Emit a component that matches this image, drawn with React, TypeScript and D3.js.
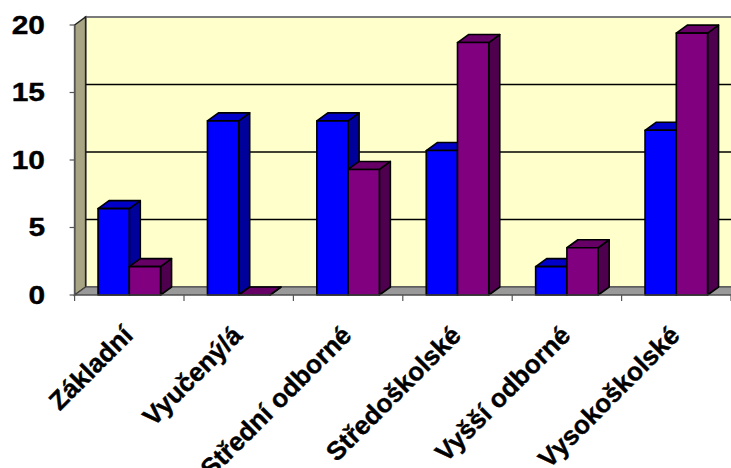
import React, { useEffect, useRef } from "react";
import * as d3 from "d3";

const categories = [
  "Základní",
  "Vyučený/á",
  "Střední odborné",
  "Středoškolské",
  "Vyšší odborné",
  "Vysokoškolské",
];
const seriesNames = ["A", "B"];
const seriesA = [6.4, 12.9, 12.9, 10.7, 2.1, 12.2];
const seriesB = [2.1, 0, 9.3, 18.7, 3.5, 19.4];
const yTicks = [0, 5, 10, 15, 20];

const faceColors = [
  { front: "#0000FF", top: "#0000C8", side: "#00009A" },
  { front: "#800080", top: "#660066", side: "#4E004E" },
];

const App: React.FC = () => {
  const ref = useRef<SVGSVGElement | null>(null);

  useEffect(() => {
    if (!ref.current) return;
    const width = 731;
    const height = 468;
    const svg = d3.select(ref.current);
    svg.selectAll("*").remove();
    svg.attr("width", width).attr("height", height);

    const left = 74.6;
    const right = 731;
    const dx = 11; // depth offset
    const dy = -8;

    const x = d3.scaleBand<string>().domain(categories).range([left, right]).padding(0);
    const xs = d3
      .scaleBand<string>()
      .domain(seriesNames)
      .range([0, x.bandwidth()])
      .paddingInner(0)
      .paddingOuter(0.75);
    const y = d3.scaleLinear().domain([0, 20]).range([295, 25]);

    const y0 = y(0);
    const yTop = y(20);

    // back wall
    svg.append("rect")
      .attr("x", left + dx)
      .attr("y", yTop + dy)
      .attr("width", right - left + 20)
      .attr("height", y0 - yTop)
      .attr("fill", "#FFFFCC")
      .attr("stroke", "#7a7a7a")
      .attr("stroke-width", 2);

    // gridlines on back wall
    yTicks.filter(t => t > 0 && t < 20).forEach(t => {
      svg.append("line")
        .attr("x1", left + dx)
        .attr("x2", width)
        .attr("y1", y(t) + dy)
        .attr("y2", y(t) + dy)
        .attr("stroke", "#000")
        .attr("stroke-width", 1.6);
    });

    // left wall
    svg.append("polygon")
      .attr("points", [
        [left, yTop], [left + dx, yTop + dy], [left + dx, y0 + dy], [left, y0],
      ].map(p => p.join(",")).join(" "))
      .attr("fill", "#A8A584")
      .attr("stroke", "#222")
      .attr("stroke-width", 1.5);

    // floor
    svg.append("polygon")
      .attr("points", [
        [left, y0], [left + dx, y0 + dy], [right + dx + 20, y0 + dy], [right + 20, y0],
      ].map(p => p.join(",")).join(" "))
      .attr("fill", "#999999")
      .attr("stroke", "#444")
      .attr("stroke-width", 1.2);

    // bars
    const allSeries = [seriesA, seriesB];
    categories.forEach((c, i) => {
      allSeries.forEach((vals, s) => {
        const col = faceColors[s];
        const bx = (x(c) ?? 0) + (xs(seriesNames[s]) ?? 0);
        const bw = xs.bandwidth();
        const top = y(vals[i]);
        const g = svg.append("g")
          .attr("stroke", "#000")
          .attr("stroke-width", 1.6)
          .attr("stroke-linejoin", "round");
        // side
        g.append("polygon")
          .attr("points", [
            [bx + bw, top], [bx + bw + dx, top + dy], [bx + bw + dx, y0 + dy], [bx + bw, y0],
          ].map(p => p.join(",")).join(" "))
          .attr("fill", col.side);
        // top
        g.append("polygon")
          .attr("points", [
            [bx, top], [bx + dx, top + dy], [bx + bw + dx, top + dy], [bx + bw, top],
          ].map(p => p.join(",")).join(" "))
          .attr("fill", col.top);
        // front
        g.append("rect")
          .attr("x", bx)
          .attr("y", top)
          .attr("width", bw)
          .attr("height", y0 - top)
          .attr("fill", col.front);
      });
    });

    // y axis
    svg.append("line")
      .attr("x1", left).attr("x2", left)
      .attr("y1", yTop).attr("y2", y0)
      .attr("stroke", "#555").attr("stroke-width", 1.2);
    yTicks.forEach(t => {
      svg.append("line")
        .attr("x1", left - 5).attr("x2", left)
        .attr("y1", y(t)).attr("y2", y(t))
        .attr("stroke", "#555").attr("stroke-width", 1.2);
      svg.append("text")
        .attr("transform", `translate(45,${y(t)}) scale(1.15,1)`)
        .attr("text-anchor", "end")
        .attr("dominant-baseline", "central")
        .attr("font-family", "'Liberation Sans', Arial, sans-serif")
        .attr("font-weight", "bold")
        .attr("font-size", "26px")
        .attr("fill", "#000")
        .attr("stroke", "#000")
        .attr("stroke-width", 0.4)
        .text(String(t));
    });

    // x axis
    svg.append("line")
      .attr("x1", left).attr("x2", right)
      .attr("y1", y0).attr("y2", y0)
      .attr("stroke", "#555").attr("stroke-width", 1.2);
    [...categories.map(c => x(c) ?? 0), right].forEach(tx => {
      svg.append("line")
        .attr("x1", tx).attr("x2", tx)
        .attr("y1", y0).attr("y2", y0 + 6)
        .attr("stroke", "#555").attr("stroke-width", 1.2);
    });

    categories.forEach(c => {
      const cx = (x(c) ?? 0) + x.bandwidth() / 2;
      svg.append("text")
        .attr("transform", `translate(${cx + 5},337) rotate(-45)`)
        .attr("text-anchor", "end")
        .attr("font-family", "'Liberation Sans', Arial, sans-serif")
        .attr("font-weight", "bold")
        .attr("font-size", "26px")
        .attr("fill", "#000")
        .attr("stroke", "#000")
        .attr("stroke-width", 0.4)
        .text(c);
    });
  }, []);

  return (
    <svg
      ref={ref}
      style={{ position: "absolute", left: 0, top: 0, background: "#fff" }}
    />
  );
};

export default App;
